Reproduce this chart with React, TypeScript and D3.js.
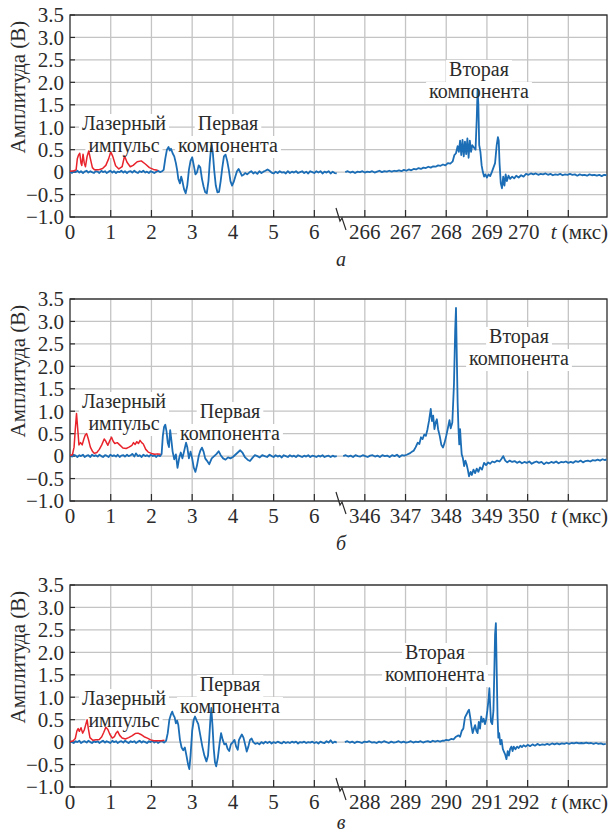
import React from 'react';
import * as d3 from 'd3';

const BLUE = '#1b6db5';
const RED = '#e8232b';
const GRID = '#c4c4c4';
const INK = '#2b2b2b';
const FONT = '"Liberation Serif", serif';

const yTicks = [-1, -0.5, 0, 0.5, 1, 1.5, 2, 2.5, 3, 3.5];
const leftTicks = [0, 1, 2, 3, 4, 5, 6];
const leftDomain = [0, 6.63];

const p1RightTicks = [266, 267, 268, 269, 270, 271];
const p2RightTicks = [346, 347, 348, 349, 350, 351];
const p3RightTicks = [288, 289, 290, 291, 292, 293];
const p1RightDomain = [265.39, 271.95];
const p2RightDomain = [345.39, 351.95];
const p3RightDomain = [287.39, 293.95];

// (a) laser pulse
const p1Red = [[0,0.02],[0.1,0.03],[0.15,0.05],[0.18,0.3],[0.21,0.38],[0.24,0.42],[0.27,0.2],[0.29,0.15],[0.32,0.4],[0.35,0.2],[0.38,0.12],[0.42,0.35],[0.46,0.47],[0.5,0.3],[0.55,0.1],[0.6,0.05],[0.7,0.05],[0.8,0.08],[0.88,0.15],[0.95,0.3],[1.0,0.45],[1.05,0.35],[1.12,0.14],[1.2,0.07],[1.28,0.12],[1.34,0.36],[1.4,0.22],[1.48,0.12],[1.55,0.15],[1.65,0.23],[1.75,0.25],[1.85,0.18],[1.95,0.1],[2.05,0.06],[2.15,0.04]];

const p1BlueLeft = [[0,0.01],[0.05,-0.02],[0.09,0.02],[0.14,0.0],[0.18,0.03],[0.23,-0.01],[0.27,0.02],[0.32,-0.02],[0.36,0.01],[0.41,0.03],[0.45,-0.01],[0.5,0.02],[0.54,0.0],[0.59,-0.02],[0.63,0.02],[0.68,0.01],[0.72,-0.02],[0.77,0.03],[0.81,0.0],[0.86,0.02],[0.9,-0.02],[0.95,0.01],[0.99,0.03],[1.04,-0.01],[1.08,0.02],[1.13,-0.02],[1.17,0.01],[1.22,0.0],[1.26,0.03],[1.31,-0.01],[1.35,0.02],[1.4,-0.02],[1.44,0.01],[1.49,0.02],[1.53,-0.01],[1.58,0.03],[1.62,0.0],[1.67,-0.02],[1.71,0.02],[1.76,0.0],[1.8,0.03],[1.85,-0.01],[1.89,0.01],[1.94,-0.02],[1.98,0.02],[2.03,0.0],[2.07,-0.02],[2.12,0.01],[2.16,0.03],[2.21,0.0],[2.26,0.02],
  [2.3,0.05],[2.34,0.3],[2.38,0.5],[2.42,0.56],[2.45,0.48],[2.48,0.52],[2.52,0.42],[2.56,0.35],[2.6,0.2],[2.63,0.05],[2.66,-0.15],[2.7,-0.25],[2.73,-0.1],[2.76,-0.2],[2.8,-0.38],[2.84,-0.47],[2.88,-0.3],[2.92,0.05],[2.96,0.25],[3.0,0.33],[3.04,0.15],[3.08,-0.05],[3.12,0.0],[3.16,0.15],[3.2,0.1],[3.24,-0.15],[3.28,-0.32],[3.32,-0.45],[3.36,-0.47],[3.4,-0.2],[3.43,0.2],[3.46,0.5],[3.48,0.6],[3.51,0.4],[3.54,0.05],[3.58,-0.3],[3.62,-0.45],[3.66,-0.44],[3.7,-0.2],[3.74,0.1],[3.78,0.35],[3.82,0.39],[3.86,0.25],[3.9,0.05],[3.94,-0.2],[3.98,-0.3],[4.02,-0.22],[4.06,-0.1],[4.1,0.02],[4.14,0.07],[4.18,0.0],[4.22,-0.08],[4.26,-0.06],[4.3,-0.02],[4.35,-0.05],[4.4,-0.01],[4.45,0.02],[4.5,-0.03],[4.55,0.0],[4.6,-0.04],[4.65,0.02],[4.7,-0.02],[4.75,0.01],[4.8,0.03],[4.85,0.06],[4.9,0.03],[4.95,-0.01],[5.0,-0.03],[5.05,0.01],[5.1,-0.02],[5.15,0.02],[5.2,-0.01],[5.25,0.0],[5.3,-0.03],[5.35,0.02],[5.4,-0.02],[5.45,0.01],[5.5,-0.01],[5.55,0.02],[5.6,-0.02],[5.65,0.0],[5.7,0.02],[5.75,-0.02],[5.8,0.01],[5.85,-0.03],[5.9,0.02],[5.95,0.0],[6.0,-0.02],[6.05,0.02],[6.1,-0.01],[6.15,0.02],[6.2,-0.03],[6.25,0.01],[6.3,-0.01],[6.35,0.02],[6.4,-0.03],[6.45,0.01],[6.5,-0.02],[6.55,-0.03]];

const p1BlueRight = [[265.52,0.0],[265.58,0.02],[265.64,-0.01],[265.7,0.01],[265.76,-0.02],[265.82,0.01],[265.88,0.0],[265.94,0.02],[266.0,-0.01],[266.06,0.01],[266.12,0.0],[266.18,0.02],[266.24,-0.01],[266.3,0.01],[266.36,0.03],[266.42,0.0],[266.48,0.02],[266.54,0.01],[266.6,0.03],[266.66,0.01],[266.72,0.03],[266.78,0.02],[266.84,0.04],[266.9,0.02],[266.96,0.05],[267.02,0.03],[267.08,0.06],[267.14,0.04],[267.2,0.07],[267.26,0.06],[267.32,0.09],[267.38,0.07],[267.44,0.1],[267.5,0.09],[267.56,0.12],[267.62,0.1],[267.68,0.13],[267.74,0.12],[267.8,0.15],[267.86,0.14],[267.92,0.17],[267.98,0.15],[268.04,0.2],[268.1,0.19],[268.16,0.24],[268.2,0.38],[268.24,0.42],[268.28,0.58],[268.31,0.45],[268.34,0.7],[268.37,0.38],[268.4,0.72],[268.43,0.35],[268.46,0.68],[268.49,0.4],[268.52,0.75],[268.55,0.32],[268.58,0.7],[268.61,0.45],[268.64,0.6],[268.68,0.55],[268.72,0.5],[268.75,1.2],[268.77,1.84],[268.79,1.5],[268.81,0.6],[268.84,0.45],[268.87,0.15],[268.9,0.0],[268.93,-0.1],[268.96,-0.05],[269.0,-0.12],[269.04,-0.05],[269.08,-0.09],[269.12,0.0],[269.16,0.1],[269.2,0.2],[269.24,0.6],[269.27,0.78],[269.29,0.7],[269.31,0.2],[269.34,-0.25],[269.37,-0.36],[269.4,-0.1],[269.43,-0.3],[269.46,-0.05],[269.49,-0.2],[269.53,-0.08],[269.57,-0.15],[269.62,-0.1],[269.67,-0.14],[269.72,-0.08],[269.78,-0.12],[269.84,-0.07],[269.9,-0.1],[269.96,-0.04],[270.02,-0.06],[270.08,-0.03],[270.14,-0.05],[270.2,-0.03],[270.26,-0.06],[270.32,-0.04],[270.38,-0.05],[270.44,-0.03],[270.5,-0.06],[270.56,-0.04],[270.62,-0.07],[270.68,-0.05],[270.74,-0.06],[270.8,-0.04],[270.86,-0.07],[270.92,-0.05],[270.98,-0.06],[271.04,-0.04],[271.1,-0.06],[271.16,-0.05],[271.22,-0.08],[271.28,-0.05],[271.34,-0.07],[271.4,-0.06],[271.46,-0.08],[271.52,-0.05],[271.58,-0.07],[271.64,-0.06],[271.7,-0.08],[271.76,-0.06],[271.82,-0.09],[271.88,-0.06],[271.94,-0.07]];

// (б)
const p2Red = [[0,0.02],[0.06,0.03],[0.1,0.2],[0.13,0.6],[0.16,0.95],[0.19,0.6],[0.22,0.25],[0.26,0.3],[0.3,0.25],[0.34,0.38],[0.38,0.48],[0.41,0.5],[0.45,0.38],[0.5,0.2],[0.55,0.11],[0.6,0.06],[0.66,0.08],[0.72,0.15],[0.78,0.25],[0.84,0.38],[0.88,0.33],[0.93,0.24],[0.98,0.35],[1.02,0.42],[1.06,0.33],[1.1,0.28],[1.16,0.3],[1.22,0.25],[1.3,0.18],[1.38,0.17],[1.45,0.2],[1.52,0.24],[1.56,0.3],[1.6,0.26],[1.64,0.32],[1.68,0.28],[1.72,0.35],[1.76,0.3],[1.8,0.27],[1.86,0.15],[1.92,0.09],[2.0,0.06],[2.08,0.04],[2.15,0.05],[2.22,0.04]];

const p2BlueLeft = [[0,0.02],[0.05,-0.01],[0.09,0.03],[0.14,0.01],[0.18,-0.02],[0.23,0.02],[0.27,0.0],[0.32,0.03],[0.36,-0.02],[0.41,0.01],[0.45,0.02],[0.5,-0.02],[0.54,0.03],[0.59,0.0],[0.63,0.02],[0.68,-0.01],[0.72,0.03],[0.77,0.0],[0.81,-0.02],[0.86,0.02],[0.9,0.01],[0.95,-0.02],[0.99,0.03],[1.04,0.0],[1.08,0.02],[1.13,-0.01],[1.17,0.03],[1.22,-0.02],[1.26,0.01],[1.31,0.02],[1.35,-0.01],[1.4,0.03],[1.44,0.0],[1.49,0.02],[1.53,0.05],[1.58,-0.01],[1.62,0.06],[1.67,0.0],[1.71,0.02],[1.76,-0.02],[1.8,0.03],[1.85,0.0],[1.89,0.02],[1.94,-0.01],[1.98,0.03],[2.03,0.0],[2.07,0.02],[2.12,-0.02],[2.16,0.02],[2.21,0.0],
  [2.25,0.05],[2.28,0.45],[2.31,0.65],[2.34,0.7],[2.37,0.55],[2.4,0.3],[2.43,0.2],[2.46,0.58],[2.49,0.35],[2.52,0.1],[2.56,-0.07],[2.6,0.04],[2.64,-0.26],[2.68,-0.05],[2.72,0.08],[2.76,-0.05],[2.8,0.1],[2.85,0.3],[2.88,0.2],[2.92,-0.05],[2.96,0.1],[3.0,-0.05],[3.04,-0.26],[3.08,-0.35],[3.12,-0.2],[3.16,0.0],[3.2,0.12],[3.24,0.19],[3.28,0.1],[3.32,-0.05],[3.36,-0.1],[3.42,-0.18],[3.48,-0.05],[3.54,0.0],[3.6,0.05],[3.65,0.11],[3.7,0.02],[3.76,-0.05],[3.82,-0.08],[3.88,-0.03],[3.94,-0.05],[4.0,-0.02],[4.06,0.03],[4.12,0.08],[4.18,0.13],[4.24,0.07],[4.3,-0.03],[4.36,-0.08],[4.42,-0.11],[4.48,-0.04],[4.54,0.02],[4.6,0.0],[4.66,-0.03],[4.72,0.02],[4.78,0.0],[4.84,-0.02],[4.9,0.03],[4.95,0.0],[5.0,-0.02],[5.05,0.02],[5.1,-0.01],[5.15,0.01],[5.2,-0.03],[5.25,0.02],[5.3,0.0],[5.35,-0.02],[5.4,0.02],[5.45,-0.01],[5.5,0.01],[5.55,-0.02],[5.6,0.02],[5.65,0.0],[5.7,-0.02],[5.75,0.01],[5.8,-0.01],[5.85,0.02],[5.9,-0.02],[5.95,0.01],[6.0,0.0],[6.05,-0.02],[6.1,0.01],[6.15,-0.01],[6.2,0.02],[6.25,-0.02],[6.3,0.0],[6.35,0.01],[6.4,-0.02],[6.45,0.01],[6.5,-0.01],[6.55,0.0]];

const p2BlueRight = [[345.47,0.0],[345.53,0.02],[345.59,-0.01],[345.65,0.01],[345.71,-0.02],[345.77,0.02],[345.83,0.0],[345.89,-0.01],[345.95,0.02],[346.01,0.0],[346.07,-0.02],[346.13,0.01],[346.19,0.02],[346.25,-0.01],[346.31,0.01],[346.37,-0.02],[346.43,0.02],[346.49,0.0],[346.55,0.01],[346.61,-0.02],[346.67,0.02],[346.73,0.0],[346.79,0.03],[346.85,-0.02],[346.91,0.02],[346.97,0.01],[347.03,0.03],[347.1,0.06],[347.16,0.1],[347.2,0.12],[347.25,0.2],[347.3,0.3],[347.34,0.27],[347.38,0.42],[347.42,0.38],[347.46,0.48],[347.5,0.45],[347.54,0.6],[347.58,0.8],[347.62,1.05],[347.65,0.78],[347.68,0.9],[347.71,0.6],[347.74,0.75],[347.77,0.82],[347.8,0.6],[347.84,0.45],[347.88,0.25],[347.92,0.19],[347.96,0.3],[348.0,0.45],[348.04,0.62],[348.08,0.8],[348.11,0.62],[348.15,0.75],[348.19,1.6],[348.22,2.8],[348.24,3.3],[348.26,2.2],[348.28,1.2],[348.3,0.63],[348.32,0.26],[348.34,0.6],[348.36,0.3],[348.38,0.04],[348.41,-0.05],[348.44,-0.22],[348.47,-0.1],[348.5,-0.18],[348.53,-0.3],[348.56,-0.45],[348.6,-0.35],[348.63,-0.42],[348.67,-0.3],[348.71,-0.38],[348.75,-0.28],[348.79,-0.35],[348.83,-0.25],[348.88,-0.3],[348.93,-0.15],[348.98,-0.2],[349.03,-0.14],[349.08,-0.17],[349.13,-0.12],[349.19,-0.14],[349.25,-0.1],[349.31,-0.12],[349.36,-0.06],[349.4,0.0],[349.45,-0.1],[349.5,-0.14],[349.56,-0.1],[349.62,-0.13],[349.68,-0.11],[349.74,-0.15],[349.8,-0.12],[349.86,-0.16],[349.92,-0.13],[349.98,-0.15],[350.04,-0.12],[350.1,-0.17],[350.16,-0.14],[350.22,-0.12],[350.28,-0.15],[350.34,-0.13],[350.4,-0.18],[350.46,-0.14],[350.52,-0.16],[350.58,-0.13],[350.64,-0.15],[350.7,-0.12],[350.76,-0.16],[350.82,-0.13],[350.88,-0.14],[350.94,-0.12],[351.0,-0.15],[351.06,-0.13],[351.12,-0.15],[351.18,-0.11],[351.24,-0.13],[351.3,-0.1],[351.36,-0.14],[351.42,-0.11],[351.48,-0.1],[351.54,-0.12],[351.6,-0.09],[351.66,-0.1],[351.72,-0.08],[351.78,-0.1],[351.84,-0.07],[351.9,-0.09],[351.94,-0.07]];

// (в)
const p3Red = [[0,0.01],[0.08,0.03],[0.13,0.08],[0.17,0.25],[0.2,0.3],[0.23,0.24],[0.27,0.32],[0.31,0.2],[0.35,0.27],[0.39,0.4],[0.42,0.5],[0.45,0.3],[0.49,0.1],[0.56,0.04],[0.64,0.05],[0.72,0.06],[0.78,0.12],[0.83,0.22],[0.88,0.33],[0.93,0.28],[0.98,0.17],[1.04,0.09],[1.09,0.12],[1.13,0.2],[1.17,0.24],[1.22,0.15],[1.28,0.09],[1.36,0.07],[1.44,0.1],[1.52,0.14],[1.6,0.19],[1.67,0.2],[1.74,0.17],[1.82,0.12],[1.9,0.09],[1.98,0.05],[2.06,0.03],[2.15,0.03],[2.24,0.03],[2.32,0.04]];

const p3BlueLeft = [[0,0.02],[0.05,0.0],[0.09,-0.02],[0.14,0.02],[0.18,0.0],[0.23,0.03],[0.27,-0.02],[0.32,0.01],[0.36,0.02],[0.41,-0.01],[0.45,0.03],[0.5,0.0],[0.54,-0.02],[0.59,0.02],[0.63,0.0],[0.68,0.02],[0.72,-0.02],[0.77,0.01],[0.81,0.03],[0.86,-0.01],[0.9,0.02],[0.95,0.0],[0.99,-0.02],[1.04,0.03],[1.08,0.0],[1.13,0.02],[1.17,-0.02],[1.22,0.01],[1.26,0.02],[1.31,-0.01],[1.35,0.03],[1.4,0.0],[1.44,-0.02],[1.49,0.02],[1.53,0.0],[1.58,0.02],[1.62,-0.02],[1.67,0.01],[1.71,0.03],[1.76,-0.01],[1.8,0.02],[1.85,0.0],[1.89,-0.02],[1.94,0.02],[1.98,0.0],[2.03,0.03],[2.07,-0.01],[2.12,0.02],[2.16,-0.02],[2.21,0.01],[2.26,0.02],[2.31,-0.01],
  [2.36,0.03],[2.4,0.2],[2.44,0.5],[2.48,0.62],[2.51,0.68],[2.54,0.6],[2.57,0.55],[2.6,0.42],[2.63,0.48],[2.66,0.38],[2.7,0.05],[2.74,-0.12],[2.78,-0.18],[2.82,-0.12],[2.86,-0.3],[2.9,-0.5],[2.93,-0.6],[2.96,-0.3],[3.0,0.25],[3.04,0.5],[3.07,0.57],[3.11,0.48],[3.15,0.4],[3.2,0.15],[3.25,-0.1],[3.3,-0.3],[3.35,-0.43],[3.39,-0.3],[3.42,0.1],[3.45,0.55],[3.47,0.76],[3.5,0.35],[3.53,-0.15],[3.56,-0.45],[3.59,-0.54],[3.63,-0.35],[3.67,-0.05],[3.71,0.2],[3.75,0.05],[3.79,-0.05],[3.83,-0.03],[3.87,-0.15],[3.91,-0.2],[3.95,-0.05],[4.0,0.0],[4.04,0.05],[4.08,-0.1],[4.12,-0.17],[4.15,0.05],[4.19,0.12],[4.22,0.17],[4.26,0.1],[4.3,-0.05],[4.34,-0.21],[4.38,-0.1],[4.42,0.05],[4.46,0.08],[4.5,0.0],[4.55,-0.04],[4.6,-0.02],[4.65,-0.05],[4.7,0.0],[4.75,-0.03],[4.8,0.01],[4.85,-0.02],[4.9,0.01],[4.95,-0.03],[5.0,0.0],[5.05,-0.02],[5.1,0.01],[5.15,-0.01],[5.2,-0.03],[5.25,0.01],[5.3,-0.02],[5.35,0.0],[5.4,-0.02],[5.45,0.01],[5.5,-0.01],[5.55,0.01],[5.6,-0.03],[5.65,0.0],[5.7,-0.01],[5.75,0.01],[5.8,-0.02],[5.85,0.0],[5.9,-0.01],[5.95,0.01],[6.0,-0.02],[6.05,0.0],[6.1,-0.03],[6.15,0.01],[6.2,-0.01],[6.25,-0.02],[6.3,0.02],[6.35,-0.01],[6.4,0.04],[6.45,-0.02],[6.5,0.01],[6.55,-0.01]];

const p3BlueRight = [[287.51,0.0],[287.57,0.02],[287.63,-0.01],[287.69,0.01],[287.75,-0.02],[287.81,0.01],[287.87,0.0],[287.93,-0.02],[287.99,0.01],[288.05,0.0],[288.11,0.02],[288.17,-0.01],[288.23,0.0],[288.29,-0.02],[288.35,0.01],[288.41,-0.01],[288.47,0.02],[288.53,0.0],[288.59,-0.02],[288.65,0.01],[288.71,-0.01],[288.77,0.0],[288.83,0.02],[288.89,-0.01],[288.95,0.01],[289.01,-0.01],[289.07,0.0],[289.13,0.02],[289.19,-0.01],[289.25,0.01],[289.31,0.0],[289.37,0.02],[289.43,-0.01],[289.49,0.01],[289.55,0.02],[289.61,0.0],[289.67,0.03],[289.73,0.01],[289.79,0.03],[289.85,0.01],[289.9,0.03],
  [289.95,0.03],[290.0,0.05],[290.06,0.04],[290.12,0.07],[290.18,0.06],[290.24,0.12],[290.3,0.15],[290.34,0.12],[290.38,0.25],[290.42,0.3],[290.46,0.55],[290.5,0.62],[290.53,0.68],[290.56,0.72],[290.59,0.55],[290.62,0.35],[290.65,0.2],[290.68,0.3],[290.71,0.38],[290.74,0.25],[290.77,0.2],[290.8,0.45],[290.83,0.3],[290.86,0.57],[290.89,0.45],[290.92,0.52],[290.95,0.4],[290.98,0.5],[291.01,0.7],[291.04,0.95],[291.06,1.2],[291.08,0.8],[291.1,0.45],[291.13,0.4],[291.16,0.7],[291.18,1.5],[291.2,2.4],[291.22,2.65],[291.24,1.6],[291.26,0.6],[291.28,0.1],[291.3,0.2],[291.33,-0.05],[291.36,0.05],[291.39,-0.15],[291.42,-0.22],[291.45,-0.28],[291.48,-0.38],[291.51,-0.2],[291.54,-0.3],[291.57,-0.15],[291.6,-0.1],[291.63,-0.2],[291.66,-0.1],[291.7,-0.16],[291.74,-0.1],[291.78,-0.13],[291.82,-0.08],[291.86,-0.11],[291.9,-0.07],[291.95,-0.1],[292.0,-0.06],[292.06,-0.09],[292.12,-0.05],[292.18,-0.08],[292.24,-0.04],[292.3,-0.07],[292.36,-0.05],[292.42,-0.06],[292.48,-0.04],[292.54,-0.06],[292.6,-0.03],[292.66,-0.05],[292.72,-0.03],[292.78,-0.05],[292.84,-0.03],[292.9,-0.04],[292.96,-0.02],[293.02,-0.04],[293.08,-0.02],[293.14,-0.03],[293.2,-0.01],[293.26,-0.03],[293.32,-0.02],[293.38,-0.03],[293.44,-0.01],[293.5,-0.03],[293.56,-0.02],[293.62,-0.04],[293.68,-0.02],[293.74,-0.04],[293.8,-0.03],[293.86,-0.05],[293.92,-0.04]];

const laserLabel = ['Лазерный', 'импульс'];
const firstLabel = ['Первая', 'компонента'];
const secondLabel = ['Вторая', 'компонента'];

// layout
const X0 = 70;
const XB = 340;
const X1 = 607;
const H = 202;

const panels = [
  {
    top: 15, letter: 'а', letterDy: 49, rightTicks: p1RightTicks, rightDomain: p1RightDomain,
    red: p1Red, blueL: p1BlueLeft, blueR: p1BlueRight,
    notes: [
      { lines: laserLabel, x: 124, y: 100 },
      { lines: firstLabel, x: 228, y: 100 },
      { lines: secondLabel, x: 479, y: 46 },
    ],
  },
  {
    top: 299, letter: 'б', letterDy: 49, rightTicks: p2RightTicks, rightDomain: p2RightDomain,
    red: p2Red, blueL: p2BlueLeft, blueR: p2BlueRight,
    notes: [
      { lines: laserLabel, x: 124, y: 94 },
      { lines: firstLabel, x: 230, y: 104 },
      { lines: secondLabel, x: 519, y: 29 },
    ],
  },
  {
    top: 585, letter: 'в', letterDy: 42, rightTicks: p3RightTicks, rightDomain: p3RightDomain,
    red: p3Red, blueL: p3BlueLeft, blueR: p3BlueRight,
    notes: [
      { lines: laserLabel, x: 124, y: 105 },
      { lines: firstLabel, x: 230, y: 91 },
      { lines: secondLabel, x: 435, y: 59 },
    ],
  },
];

const fmtY = (v: number) => (v === 0 ? '0' : (v < 0 ? '\u2212' : '') + Math.abs(v).toFixed(1));

// white strip width behind each annotation line
let measureCtx: CanvasRenderingContext2D | null = null;
function textWidth(s: string, size: number) {
  if (!measureCtx) measureCtx = document.createElement('canvas').getContext('2d');
  if (!measureCtx) return s.length * size * 0.5;
  measureCtx.font = `${size}px ${FONT}`;
  return measureCtx.measureText(s).width;
}

const ts = (size: number, italic = false) => ({
  fontFamily: FONT, fontSize: size + 'px', fontStyle: italic ? 'italic' : 'normal', fill: INK,
});

function Panel({ p }: { p: typeof panels[number] }) {
  const bottom = p.top + H;
  const y = d3.scaleLinear().domain([-1, 3.5]).range([bottom, p.top]);
  const xL = d3.scaleLinear().domain(leftDomain).range([X0, XB]);
  const xR = d3.scaleLinear().domain(p.rightDomain).range([XB, X1]);
  const lineL = d3.line<number[]>().x(d => xL(d[0])).y(d => y(d[1]));
  const lineR = d3.line<number[]>().x(d => xR(d[0])).y(d => y(d[1]));
  const vx = [...leftTicks.slice(1).map(t => xL(t)), ...p.rightTicks.map(t => xR(t))];
  const rLabels = p.rightTicks.slice(0, -1);
  const notes = p.notes.flatMap(n => n.lines.map((s, i) => ({ s, x: n.x, y: p.top + n.y + 15 + i * 22 })));

  return (
    <g>
      {yTicks.map(v => (
        <line key={'h' + v} x1={X0} x2={X1} y1={y(v)} y2={y(v)} stroke={GRID} strokeWidth={1.3} />
      ))}
      {vx.map(x => (
        <line key={'v' + x} x1={x} x2={x} y1={p.top} y2={bottom} stroke={GRID} strokeWidth={1.3} />
      ))}
      {vx.map(x => (
        <line key={'t' + x} x1={x} x2={x} y1={bottom - 7} y2={bottom} stroke={INK} strokeWidth={1.2} />
      ))}
      {yTicks.map(v => (
        <line key={'yt' + v} x1={X0} x2={X0 + 5} y1={y(v)} y2={y(v)} stroke={INK} strokeWidth={1.2} />
      ))}
      <rect x={X0} y={p.top} width={X1 - X0} height={H} fill="none" stroke={INK} strokeWidth={1.3} />
      <path d={`M${XB - 4},${bottom - 9} L${XB},${bottom + 4} L${XB + 2},${bottom + 1} L${XB + 6},${bottom + 13}`}
        fill="none" stroke={INK} strokeWidth={1.2} />

      {notes.map((n, i) => {
        const w = textWidth(n.s, 20);
        return <rect key={'b' + i} x={n.x - w / 2 - 3} y={n.y - 16} width={w + 6} height={22} fill="#fff" />;
      })}

      <path d={lineL(p.blueL) || ''} fill="none" stroke={BLUE} strokeWidth={1.8} strokeLinejoin="round" />
      <path d={lineL(p.red) || ''} fill="none" stroke={RED} strokeWidth={1.5} strokeLinejoin="round" />
      <path d={lineR(p.blueR) || ''} fill="none" stroke={BLUE} strokeWidth={1.8} strokeLinejoin="round" />

      {yTicks.map(v => (
        <text key={'yl' + v} x={X0 - 6} y={y(v)} dy="0.35em" textAnchor="end" style={ts(21)}>{fmtY(v)}</text>
      ))}
      {leftTicks.map(t => (
        <text key={'xl' + t} x={xL(t)} y={bottom + 22} textAnchor="middle" style={ts(21)}>{t}</text>
      ))}
      {rLabels.map((t, i) => (
        <text key={'xr' + t} x={xR(t) + (i === rLabels.length - 1 ? -4 : 0)} y={bottom + 22}
          textAnchor="middle" style={ts(21)}>{t}</text>
      ))}
      <text x={X1 + 1} y={bottom + 22} textAnchor="end" style={ts(21)}>
        <tspan style={{ fontStyle: 'italic' }}>t</tspan> (мкс)
      </text>
      <text transform={`translate(25,${p.top + 72}) rotate(-90)`} textAnchor="middle" style={ts(21)}>
        Амплитуда (В)
      </text>
      <text x={XB + 1} y={bottom + p.letterDy} textAnchor="middle" style={ts(20, true)}>{p.letter}</text>

      {notes.map((n, i) => (
        <text key={'n' + i} x={n.x} y={n.y} textAnchor="middle" style={ts(20)}>{n.s}</text>
      ))}
    </g>
  );
}

export default function App() {
  return (
    <svg width={614} height={837} style={{ position: 'absolute', left: 0, top: 0, background: '#fff' }}>
      {panels.map(p => <Panel key={p.letter} p={p} />)}
    </svg>
  );
}
